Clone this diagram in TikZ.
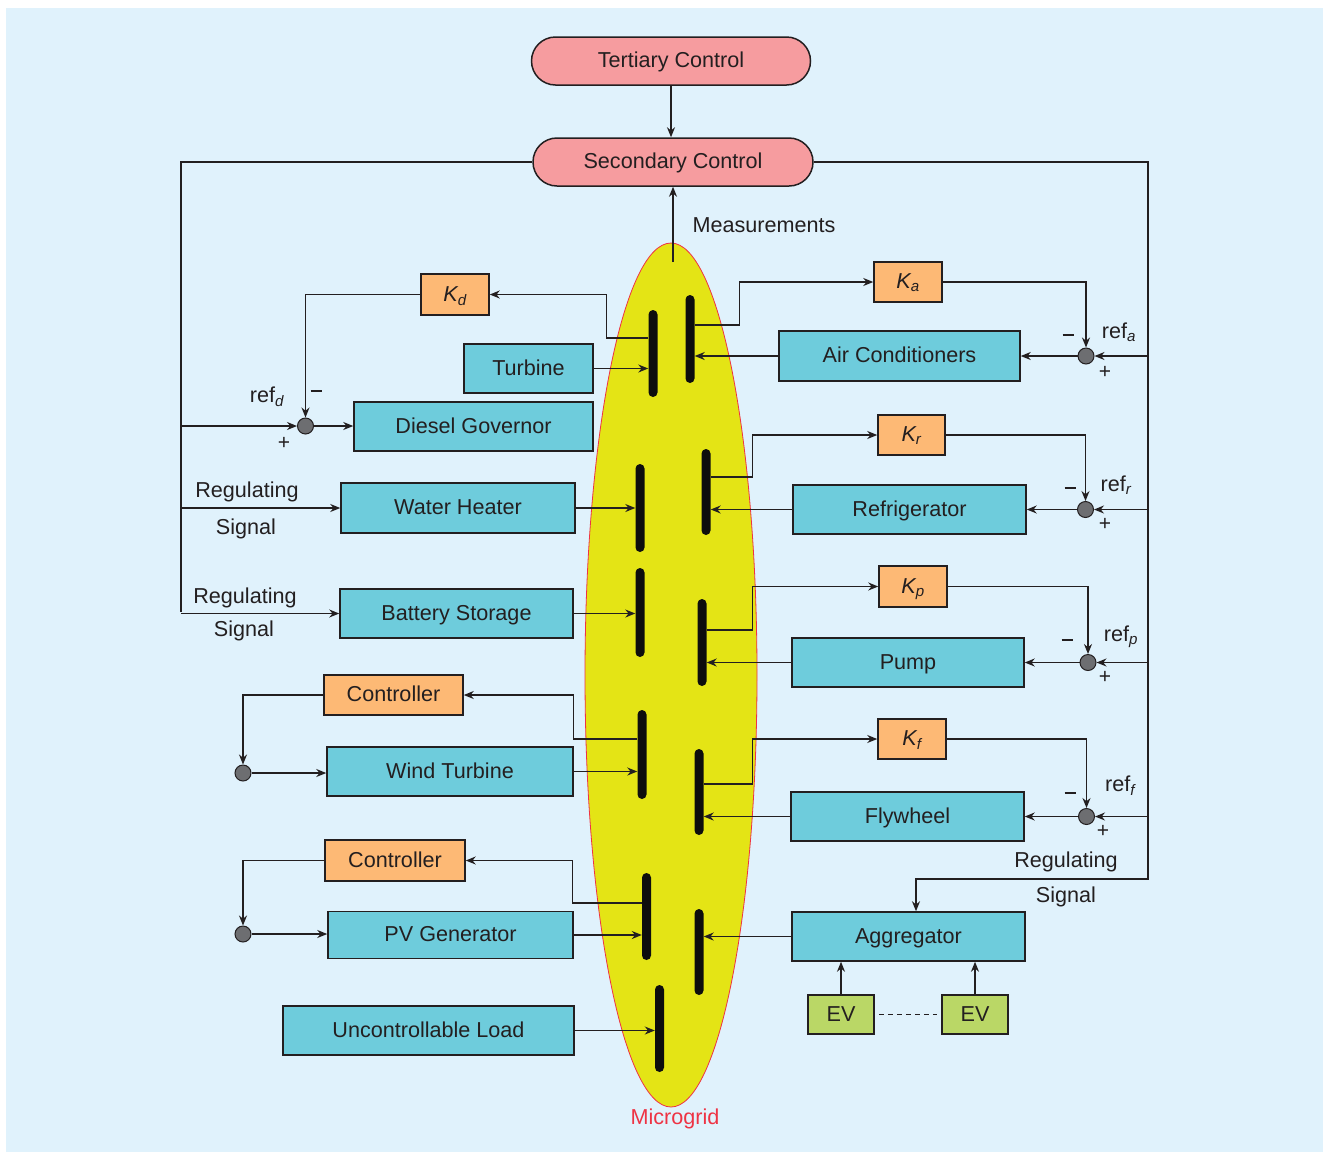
\documentclass[tikz,border=0pt]{standalone}
\usepackage{fontspec}
\setmainfont{Liberation Sans}
\usetikzlibrary{arrows.meta,shapes.geometric,calc}
\definecolor{bgc}{HTML}{E0F2FC}
\definecolor{cyanb}{HTML}{6ECCDC}
\definecolor{orb}{HTML}{FDB975}
\definecolor{pinkb}{HTML}{F69C9F}
\definecolor{evg}{HTML}{BAD766}
\definecolor{yel}{HTML}{E4E415}
\definecolor{mgred}{HTML}{EE3344}
\definecolor{ink}{HTML}{231F20}
\definecolor{sumg}{HTML}{6D6E71}
\newcommand{\minussign}{\rule[6pt]{11pt}{1.6pt}}
\begin{document}
\begin{tikzpicture}[x=1pt,y=-1pt,
 every node/.style={font=\fontsize{21.6}{26}\selectfont, text=ink},
 blk/.style={draw=ink, line width=1.5pt, inner sep=0pt, rectangle, text height=15.5pt, text depth=2pt},
 cbox/.style={blk, fill=cyanb, minimum height=49pt},
 obox/.style={blk, fill=orb, minimum height=40pt},
 gbox/.style={blk, fill=evg, minimum width=66pt, minimum height=39pt},
 pill/.style={blk, fill=pinkb, rounded corners=24pt, minimum height=48pt},
 busbar/.style={rectangle, fill=black!95, rounded corners=4.5pt, minimum width=9pt, inner sep=0pt},
 sumc/.style={circle, draw=ink, fill=sumg, line width=1pt, minimum size=16pt, inner sep=0pt},
 conn/.style={draw=ink, line width=1.3pt},
 arr/.style={conn, -{Stealth[length=10pt,width=8pt]}},
 sgn/.style={font=\fontsize{21}{24}\selectfont, inner sep=0pt},
]
\useasboundingbox (0,0) rectangle (1323,1152);
\fill[bgc] (6,8) rectangle (1323,1152);

% microgrid
\node[ellipse, draw=mgred, line width=0.8pt, fill=yel, minimum width=172pt, minimum height=864pt, inner sep=0pt] (mg) at (671,675) {};
\node[text=mgred] (mgl) at (675,1119) {Microgrid};

% top controls
\node[pill, minimum width=279pt] (tc) at (671,61) {Tertiary Control};
\node[pill, minimum width=280pt] (sc) at (673,162) {Secondary Control};
\coordinate (mtop) at (673,262);
\node[anchor=west] (meas) at (689,225) {Measurements};
\coordinate (L) at (181,612);
\coordinate (R) at (1148,879);

% left boxes
\node[obox, minimum width=68pt, minimum height=41pt] (kd) at (455,294.5) {\itshape K\textsubscript{d}};
\node[cbox, minimum width=129pt] (tb) at (528.5,368.5) {Turbine};
\node[cbox, minimum width=239pt] (dg) at (473.5,426.5) {Diesel Governor};
\node[sumc] (sd) at (305.5,426) {};
\node[cbox, minimum width=234pt, minimum height=50pt] (wh) at (458,508) {Water Heater};
\node[cbox, minimum width=233pt] (bs) at (456.5,613.5) {Battery Storage};
\node[obox, minimum width=139pt] (c1) at (393.5,695) {Controller};
\node[cbox, minimum width=246pt] (wt) at (450,771.5) {Wind Turbine};
\node[sumc] (cw) at (243,773) {};
\node[obox, minimum width=140pt, minimum height=41pt] (c2) at (395,860.5) {Controller};
\node[cbox, minimum width=245pt, minimum height=47pt] (pv) at (450.5,935) {PV Generator};
\node[sumc] (cp) at (243,934) {};
\node[cbox, minimum width=291pt] (ul) at (428.5,1030.5) {Uncontrollable Load};

% right boxes
\node[obox, minimum width=68pt] (ka) at (908,282) {\itshape K\textsubscript{a}};
\node[cbox, minimum width=241pt, minimum height=50pt] (ac) at (899.5,356) {Air Conditioners};
\node[sumc] (sa) at (1086,356) {};
\node[obox, minimum width=67pt] (kr) at (911.5,435) {\itshape K\textsubscript{r}};
\node[cbox, minimum width=233pt] (rf) at (909.5,509.5) {Refrigerator};
\node[sumc] (sr) at (1085.5,509.5) {};
\node[obox, minimum width=68pt, minimum height=41pt] (kp) at (913,586.5) {\itshape K\textsubscript{p}};
\node[cbox, minimum width=232pt] (pu) at (908,662.5) {Pump};
\node[sumc] (sp) at (1088,662.5) {};
\node[obox, minimum width=68pt] (kf) at (912,739) {\itshape K\textsubscript{f}};
\node[cbox, minimum width=233pt] (fw) at (907.5,816.5) {Flywheel};
\node[sumc] (sf) at (1086.5,816.5) {};
\node[cbox, minimum width=233pt] (ag) at (908.5,936.5) {Aggregator};
\node[gbox] (ev1) at (841,1014.5) {EV};
\node[gbox] (ev2) at (975,1014.5) {EV};

% bus bars
\node[busbar, minimum height=87pt] (b1) at (653,353.5) {};
\node[busbar, minimum height=88pt] (b2) at (690,339) {};
\node[busbar, minimum height=88pt] (b3) at (640,508) {};
\node[busbar, minimum height=89pt] (b4) at (640,612.5) {};
\node[busbar, minimum height=86pt] (b5) at (706,492) {};
\node[busbar, minimum height=87pt] (b6) at (702,642.5) {};
\node[busbar, minimum height=89pt] (b7) at (642,754.5) {};
\node[busbar, minimum height=86pt] (b9) at (699,792) {};
\node[busbar, minimum height=87pt] (b8) at (646.5,916.5) {};
\node[busbar, minimum height=86pt] (b10) at (699,952) {};
\node[busbar, minimum height=87pt] (b11) at (659.5,1028.5) {};

% top connectors
\draw[arr] (tc.south) -- (tc.south |- sc.north);
\draw[arr] (mtop) -- (sc.south);
\draw[conn] (sc.west) -| (L);
\draw[arr] (sc.east) -| (R) -| ([xshift=7.5pt]ag.north);

% left connectors
\draw[arr] (tb.east) -- (tb.east -| b1.west);
\draw[arr] ([yshift=15.5pt]b1.west) -- ++(-41.5,0) |- (kd.east);
\draw[arr] (kd.west) -| (sd.north);
\draw[arr] (sd -| L) -- (sd.west);
\draw[arr] (sd.east) -- (sd.east -| dg.west);
\draw[arr] (wh.west -| L) -- (wh.west);
\draw[arr] (wh.east) -- (wh.east -| b3.west);
\draw[arr] (bs.west -| L) -- (bs.west);
\draw[arr] (bs.east) -- (bs.east -| b4.west);
\draw[arr] ([yshift=15.5pt]b7.west) -- ++(-63.5,0) |- (c1.east);
\draw[arr] (c1.west) -| (cw.north);
\draw[arr] (cw.east) -- (cw.east -| wt.west);
\draw[arr] (wt.east) -- (wt.east -| b7.west);
\draw[arr] ([yshift=13.5pt]b8.west) -- ++(-69,0) |- (c2.east);
\draw[arr] (c2.west) -| (cp.north);
\draw[arr] (cp.east) -- (cp.east -| pv.west);
\draw[arr] (pv.east) -- (pv.east -| b8.west);
\draw[arr] (ul.east) -- (ul.east -| b11.west);

% right connectors
\draw[arr] ([yshift=14pt]b2.east) -- ++(44.5,0) |- (ka.west);
\draw[arr] (ka.east) -| (sa.north);
\draw[arr] (sa -| R) -- (sa.east);
\draw[arr] (sa.west) -- (ac.east);
\draw[arr] (ac.west) -- (ac.west -| b2.east);
\draw[arr] ([yshift=15pt]b5.east) -- ++(41.5,0) |- (kr.west);
\draw[arr] (kr.east) -| (sr.north);
\draw[arr] (sr -| R) -- (sr.east);
\draw[arr] (sr.west) -- (rf.east);
\draw[arr] (rf.west) -- (rf.west -| b5.east);
\draw[arr] ([yshift=12.5pt]b6.east) -- ++(45.5,0) |- (kp.west);
\draw[arr] (kp.east) -| (sp.north);
\draw[arr] (sp -| R) -- (sp.east);
\draw[arr] (sp.west) -- (pu.east);
\draw[arr] (pu.west) -- (pu.west -| b6.east);
\draw[arr] ([yshift=8pt]b9.east) -- ++(48.5,0) |- (kf.west);
\draw[arr] (kf.east) -| (sf.north);
\draw[arr] (sf -| R) -- (sf.east);
\draw[arr] (sf.west) -- (fw.east);
\draw[arr] (fw.west) -- (fw.west -| b9.east);
\draw[arr] (ag.west) -- (ag.west -| b10.east);
\draw[arr] (ev1.north) -- (ev1.north |- ag.south);
\draw[arr] (ev2.north) -- (ev2.north |- ag.south);
\draw[conn, dash pattern=on 5pt off 4pt] ([xshift=4pt]ev1.east) -- ([xshift=-4pt]ev2.west);

% labels
\node (lrd) at (267,397) {ref\textsubscript{\itshape d}};
\node[sgn] (mnd) at (316,394) {\minussign};
\node[sgn] (pld) at (284,443) {+};
\node (lra) at (1119,332) {ref\textsubscript{\itshape a}};
\node[sgn] (mna) at (1068,338) {\minussign};
\node[sgn] (pla) at (1105,372) {+};
\node (lrr) at (1116,485) {ref\textsubscript{\itshape r}};
\node[sgn] (mnr) at (1070,491) {\minussign};
\node[sgn] (plr) at (1105,524) {+};
\node (lrp) at (1121,637) {ref\textsubscript{\itshape p}};
\node[sgn] (mnp) at (1067,643) {\minussign};
\node[sgn] (plp) at (1105,677) {+};
\node (lrf) at (1120,786) {ref\textsubscript{\itshape f}};
\node[sgn] (mnf) at (1070,796) {\minussign};
\node[sgn] (plf) at (1103,831) {+};
\node (rg1) at (247,492) {Regulating};
\node (sg1) at (246,529) {Signal};
\node (rg2) at (245,598) {Regulating};
\node (sg2) at (244,631) {Signal};
\node (rg3) at (1066,862) {Regulating};
\node (sg3) at (1066,897) {Signal};
\end{tikzpicture}
\end{document}
